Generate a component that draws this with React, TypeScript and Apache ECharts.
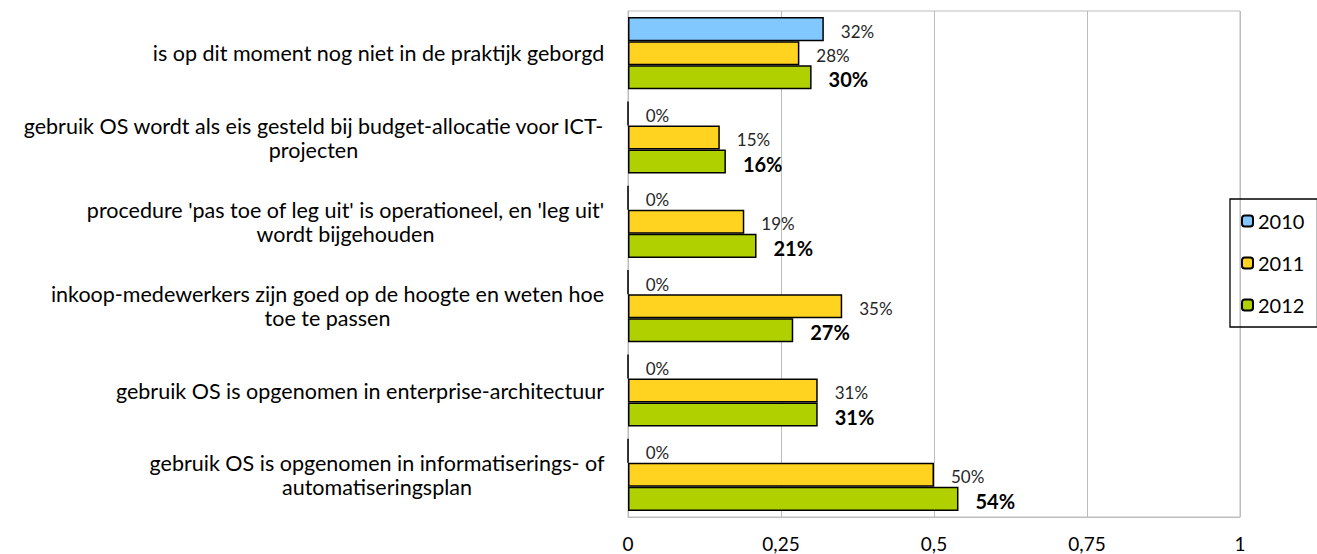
import React, { useEffect, useRef } from 'react';
import * as echarts from 'echarts';

const categories = [
  'is op dit moment nog niet in de praktijk geborgd',
  'gebruik OS wordt als eis gesteld bij budget-allocatie voor ICT-\nprojecten',
  "procedure 'pas toe of leg uit' is operationeel, en 'leg uit'\nwordt bijgehouden",
  'inkoop-medewerkers zijn goed op de hoogte en weten hoe\ntoe te passen',
  'gebruik OS is opgenomen in enterprise-architectuur',
  'gebruik OS is opgenomen in informatiserings- of\nautomatiseringsplan',
];
const years = ['2010', '2011', '2012'];
const values2010 = [0.32, 0, 0, 0, 0, 0];
const values2011 = [0.28, 0.15, 0.19, 0.35, 0.31, 0.5];
const values2012 = [0.3, 0.16, 0.21, 0.27, 0.31, 0.54];
const xTickLabels = ['0', '0,25', '0,5', '0,75', '1'];

const FONT = 'Lato';
const CAT_SIZE = 21.5;

export default function App() {
  const ref = useRef<HTMLDivElement>(null);
  useEffect(() => {
    if (!ref.current) return;
    const chart = echarts.init(ref.current, null, { renderer: 'svg' });
    const canvas = document.createElement('canvas');
    const ctx = canvas.getContext('2d')!;
    ctx.font = `${CAT_SIZE}px ${FONT}`;
    const rich: any = {};
    categories.forEach((c, i) => {
      const w = Math.max(...c.split('\n').map((l) => ctx.measureText(l).width));
      rich['c' + i] = {
        width: Math.ceil(w) + 1,
        align: 'center',
        fontSize: CAT_SIZE,
        fontFamily: FONT,
        color: '#000',
        lineHeight: 24,
      };
    });
    const colors = ['#80C8FF', '#FFD320', '#B0D000'];
    const seriesData = [values2010, values2011, values2012];
    chart.setOption({
      animation: false,
      grid: {
        left: 628,
        right: 77,
        top: 11,
        bottom: 37,
        show: true,
        borderColor: '#BDBDBD',
        borderWidth: 1,
        containLabel: false,
        outerBoundsMode: 'none',
      },
      legend: {
        orient: 'vertical',
        left: 1230,
        top: 199,
        data: years,
        itemWidth: 11,
        itemHeight: 11,
        itemGap: 20,
        padding: [11, 13, 11, 11],
        borderColor: '#000',
        borderWidth: 1.3,
        textStyle: { fontFamily: FONT, fontSize: 20, lineHeight: 22, color: '#000' },
      },
      xAxis: {
        type: 'value',
        min: 0,
        max: 1,
        interval: 0.25,
        axisLine: { show: true, lineStyle: { color: '#BDBDBD' } },
        axisTick: { show: false },
        splitLine: { show: true, lineStyle: { color: '#BDBDBD', width: 1 } },
        axisLabel: {
          margin: 17,
          fontFamily: FONT,
          fontSize: 19,
          lineHeight: 19,
          color: '#000',
          formatter: (v: number) => xTickLabels[Math.round(v / 0.25)] ?? String(v),
        },
      },
      yAxis: {
        type: 'category',
        inverse: true,
        data: categories,
        axisLine: { show: true, lineStyle: { color: '#BDBDBD' } },
        axisTick: { show: false },
        axisLabel: {
          margin: 23,
          align: 'right',
          formatter: (v: string, i: number) =>
            v
              .split('\n')
              .map((l) => `{c${i}|${l}}`)
              .join('\n'),
          rich,
        },
      },
      series: years.map((y, si) => ({
        name: y,
        type: 'bar',
        data: seriesData[si],
        barGap: '0%',
        barCategoryGap: '14.5%',
        itemStyle: { color: colors[si], borderColor: '#000', borderWidth: 1.5 },
        label: {
          show: true,
          position: 'right',
          distance: 17,
          offset: [0, 2],
          fontFamily: FONT,
          fontSize: si === 2 ? 20 : 17,
          fontWeight: si === 2 ? 'bold' : 'normal',
          color: si === 2 ? '#000' : '#262626',
          formatter: (p: any) => Math.round(p.value * 100) + '%',
        },
      })),
    });
    return () => chart.dispose();
  }, []);
  return (
    <div
      ref={ref}
      style={{ position: 'absolute', left: 0, top: 0, width: 1317, height: 554, background: '#fff' }}
    />
  );
}
